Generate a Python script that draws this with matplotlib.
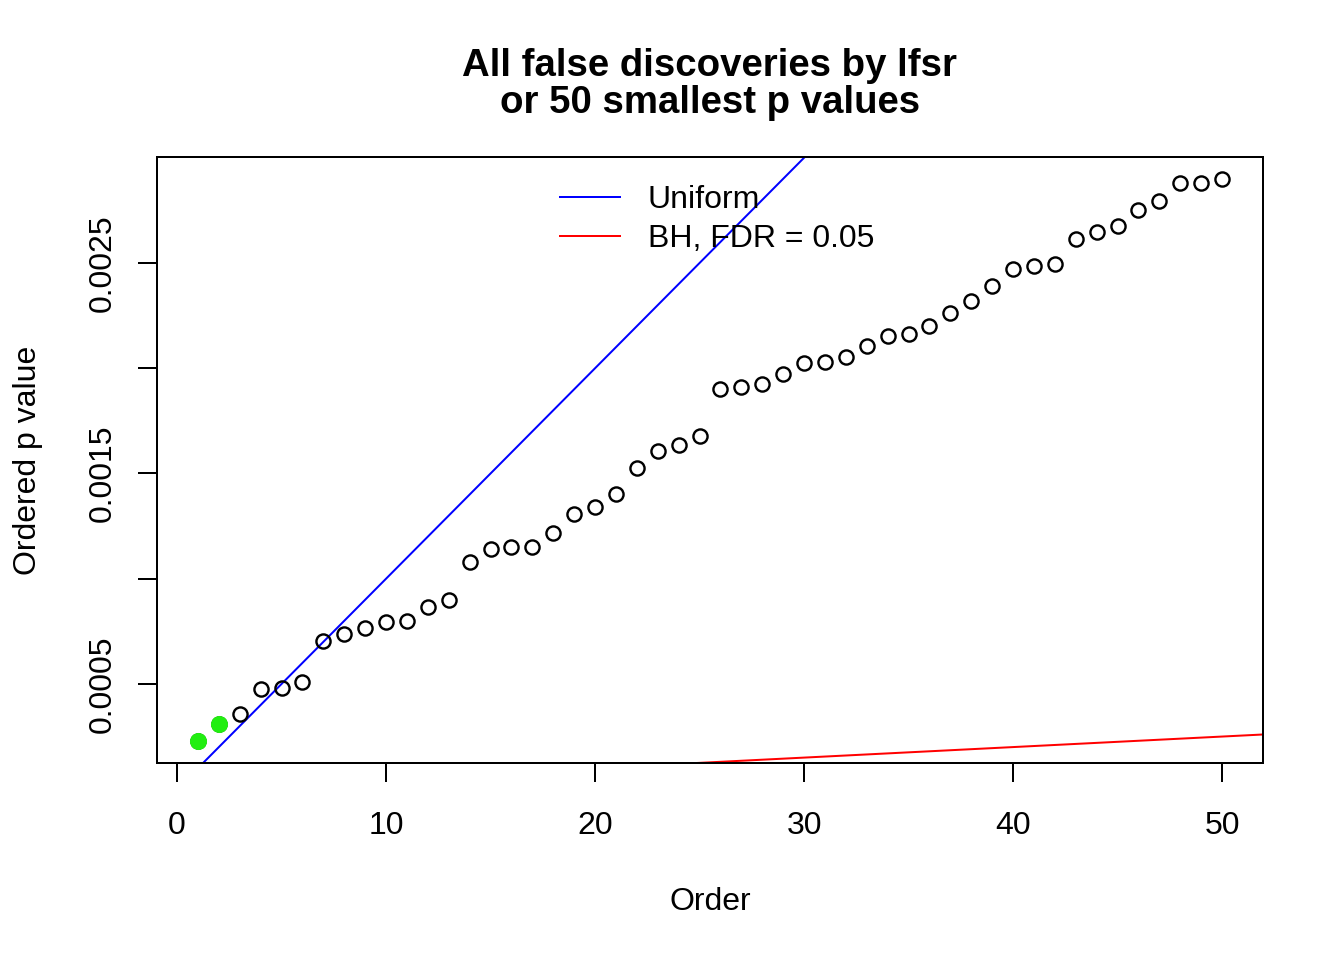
import numpy as np
import matplotlib
matplotlib.use("Agg")
import matplotlib.pyplot as plt

plt.rcParams['font.family'] = ['Liberation Sans', 'DejaVu Sans']

# ordered p values of the 50 smallest tests
order = np.arange(1, 51)
pvals = [0.000231, 0.000310, 0.000355, 0.000476, 0.000480, 0.000511, 0.000702, 0.000736,
         0.000767, 0.000792, 0.000800, 0.000864, 0.000901, 0.001080, 0.001140, 0.001153,
         0.001151, 0.001217, 0.001307, 0.001340, 0.001402, 0.001527, 0.001606, 0.001633,
         0.001679, 0.001901, 0.001911, 0.001927, 0.001971, 0.002023, 0.002028, 0.002053,
         0.002105, 0.002154, 0.002164, 0.002199, 0.002264, 0.002321, 0.002391, 0.002472,
         0.002486, 0.002494, 0.002612, 0.002645, 0.002675, 0.002751, 0.002795, 0.002881,
         0.002881, 0.002897]
n_lfsr = 2          # false discoveries by lfsr (highlighted)
n_tests = 10000
fdr = 0.05
xticks = [0, 10, 20, 30, 40, 50]
yticks = [0.0005, 0.0010, 0.0015, 0.0020, 0.0025]
yticklabels = ['0.0005', '', '0.0015', '', '0.0025']

pvals = np.array(pvals)

fig = plt.figure(figsize=(7, 5), dpi=192)
W, H = 1344, 960
ax = fig.add_axes([157 / W, 1 - 763 / H, (1263 - 157) / W, (763 - 157) / H])

# R-style 4% axis padding
xr = order.max() - order.min()
yr = pvals.max() - pvals.min()
ax.set_xlim(order.min() - 0.04 * xr, order.max() + 0.04 * xr)
ax.set_ylim(pvals.min() - 0.04 * yr, pvals.max() + 0.04 * yr)

ax.plot(order, pvals, 'o', mfc='none', mec='black', ms=5.3, mew=0.9, zorder=3)
ax.plot(order[:n_lfsr], pvals[:n_lfsr], 'o', color='#22ee11', ms=6.4, mew=0, zorder=4)

ax.axline((0, 0), slope=1 / n_tests, color='blue', lw=0.75, label='Uniform')
ax.axline((0, 0), slope=fdr / n_tests, color='red', lw=0.75, label='BH, FDR = 0.05')

ax.set_xticks(xticks)
ax.set_yticks(yticks)
ax.set_yticklabels(yticklabels)
ax.tick_params(direction='out', length=7.2, width=0.75, labelsize=12)
ax.tick_params(axis='x', pad=10.9)
ax.tick_params(axis='y', pad=7.5)
for lab in ax.get_yticklabels():
    lab.set_rotation(90)
    lab.set_va('center')
for s in ax.spines.values():
    s.set_linewidth(0.75)

ax.set_xlabel('Order', fontsize=12, labelpad=17)
ax.set_ylabel('Ordered p value', fontsize=12, labelpad=16.7)

ax.legend(loc='upper left', bbox_to_anchor=(560 / W, 1 - 185 / H), bbox_transform=fig.transFigure,
          frameon=False, fontsize=12, handlelength=1.875, handletextpad=0.875,
          borderpad=0, borderaxespad=0, labelspacing=0.28)

cx = (157 + 1263) / 2 / W
fig.text(cx, 1 - 76 / H, 'All false discoveries by lfsr', ha='center', va='baseline',
         fontsize=14.4, fontweight='bold')
fig.text(cx, 1 - 113 / H, 'or 50 smallest p values', ha='center', va='baseline',
         fontsize=14.4, fontweight='bold')

fig.savefig('out.png', dpi=192)
